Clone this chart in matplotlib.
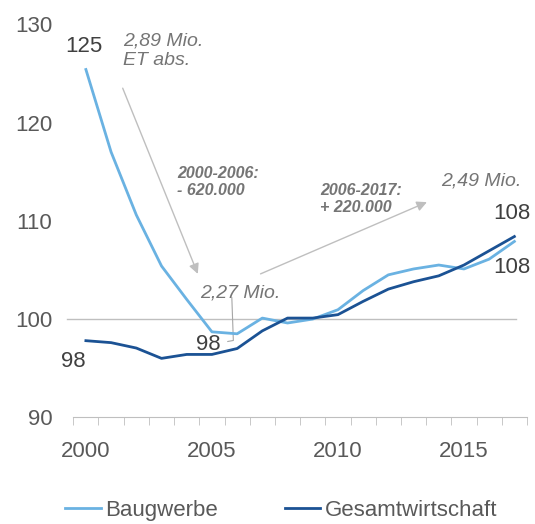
import numpy as np
import matplotlib
matplotlib.use("Agg")
import matplotlib.pyplot as plt

plt.rcParams['font.family'] = ['Liberation Sans', 'DejaVu Sans']

# index values, 2006 = 100
years = np.arange(2000, 2018)
bau = [125.4, 117.0, 110.6, 105.4, 102.0, 98.7, 98.5, 100.1, 99.6, 100.0,
       100.95, 102.9, 104.5, 105.1, 105.5, 105.1, 106.1, 107.9]
gesamt = [97.8, 97.6, 97.05, 96.0, 96.4, 96.4, 97.0, 98.8, 100.1, 100.1,
          100.45, 101.8, 103.05, 103.8, 104.4, 105.5, 106.95, 108.4]
series_names = ['Baugwerbe', 'Gesamtwirtschaft']
year_ticks = [2000, 2005, 2010, 2015]
y_ticks = [90, 100, 110, 120, 130]

light = '#6AB2E2'
dark = '#1B5294'
grey_txt = '#595959'
note_txt = '#757575'
line_grey = '#BFBFBF'

fig = plt.figure(figsize=(5.35, 5.24), dpi=100)
ax = fig.add_axes([0.137, 0.2036, 0.848, 0.75])

ax.axhline(100, xmin=-0.0145, xmax=0.976, color=line_grey, lw=1, clip_on=False, zorder=1)
ax.plot(years, bau, color=light, lw=2.0, label=series_names[0], zorder=3)
ax.plot(years, gesamt, color=dark, lw=2.0, label=series_names[1], zorder=3)

ax.set_xlim(1999.5, 2017.5)
ax.set_ylim(90, 130)
ax.set_yticks(y_ticks)
ax.set_xticks(year_ticks)
ax.set_xticks(np.arange(1999.5, 2018.0, 1.0), minor=True)
for s in ['top', 'right', 'left']:
    ax.spines[s].set_visible(False)
ax.spines['bottom'].set_color(line_grey)
ax.tick_params(axis='y', length=0, pad=15, labelsize=16, labelcolor=grey_txt)
ax.tick_params(axis='x', which='major', length=0, pad=17, labelsize=16, labelcolor=grey_txt)
ax.tick_params(axis='x', which='minor', length=6, color=line_grey, direction='out')

# data labels
lab = dict(fontsize=16, color='#404040', ha='center', va='center')
ax.text(1999.92, 127.73, '125', **lab)
ax.text(1999.52, 95.69, '98', **lab)
ax.text(2004.85, 97.46, '98', **lab)
ax.text(2016.9, 110.78, '108', **lab)
ax.text(2016.9, 105.29, '108', **lab)

# annotations
ax.text(2001.46, 127.3, '2,89 Mio.\nET abs.', fontsize=14, style='italic',
        color=note_txt, ha='left', va='center')
ax.text(2003.61, 113.97, '2000-2006:\n- 620.000', fontsize=11.5, style='italic',
        weight='bold', color=note_txt, ha='left', va='center')
ax.text(2009.29, 112.24, '2006-2017:\n+ 220.000', fontsize=11.5, style='italic',
        weight='bold', color=note_txt, ha='left', va='center')
ax.text(2014.11, 114.07, '2,49 Mio.', fontsize=14, style='italic',
        color=note_txt, ha='left', va='center')
ax.text(2004.52, 102.64, '2,27 Mio.', fontsize=14, style='italic',
        color=note_txt, ha='left', va='center')
ax.plot([2005.79, 2005.85, 2005.63], [102.17, 97.82, 97.72], color='#A6A6A6', lw=0.8)

arrow = dict(arrowstyle='-|>', color=line_grey, lw=1, mutation_scale=15, shrinkA=0, shrinkB=0)
ax.annotate('', xy=(2004.44, 104.6), xytext=(2001.46, 123.5), arrowprops=arrow)
ax.annotate('', xy=(2013.53, 111.9), xytext=(2006.93, 104.6), arrowprops=arrow)

fig.legend(loc='center', bbox_to_anchor=(0.526, 0.026), ncol=2, frameon=False,
           fontsize=16, labelcolor=grey_txt, handlelength=1.6, handletextpad=0.2,
           columnspacing=3.0, borderpad=0.1)

fig.savefig('out.png', dpi=100)
